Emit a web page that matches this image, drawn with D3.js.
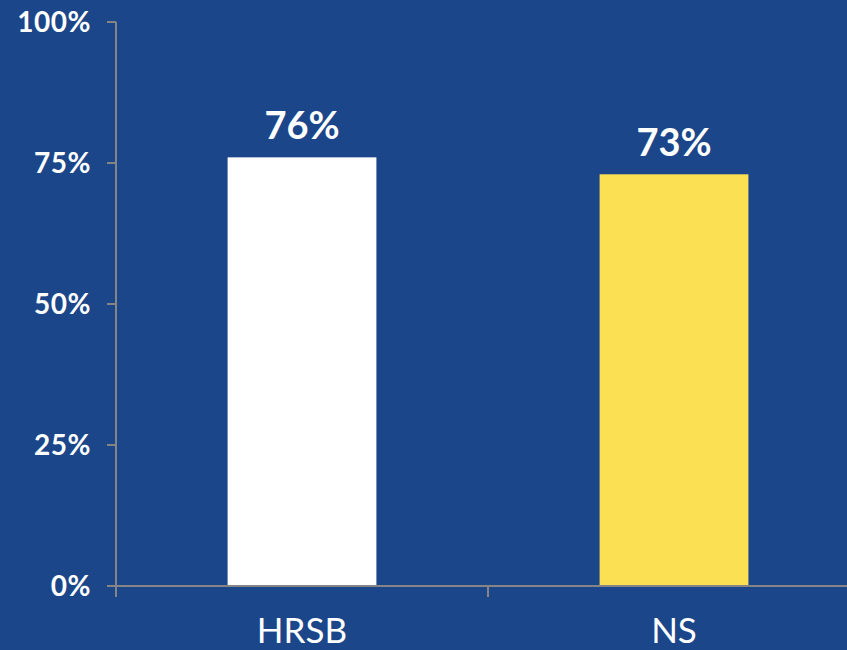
<!DOCTYPE html>
<html><head><meta charset="utf-8">
<script src="https://cdn.jsdelivr.net/npm/d3@7/dist/d3.min.js"></script>
<style>html,body{margin:0;padding:0;background:#1b4689;overflow:hidden}svg{display:block}</style>
</head><body>
<script>
const categories = ["HRSB", "NS"];
const values = [0.76, 0.73];
const barColors = ["#ffffff", "#fae052"];
const yTicks = [0, 0.25, 0.5, 0.75, 1];
const W = 847, H = 650;
const svg = d3.select("body").append("svg").attr("width", W).attr("height", H);
svg.append("rect").attr("width", W).attr("height", H).attr("fill", "#1b4689");
const x = d3.scaleBand().domain(categories).range([116, 860]).padding(0);
const y = d3.scaleLinear().domain([0, 1]).range([586, 22]);
const font = "Lato, 'Open Sans', sans-serif";
const axisColor = "#858585";
// y axis line
svg.append("line").attr("x1", 116).attr("x2", 116).attr("y1", y(1)).attr("y2", 597)
  .attr("stroke", axisColor).attr("stroke-width", 2);
// y ticks
svg.selectAll(".yt").data(yTicks).join("line")
  .attr("x1", 107).attr("x2", 116).attr("y1", d => y(d)).attr("y2", d => y(d))
  .attr("stroke", axisColor).attr("stroke-width", 2);
svg.selectAll(".yl").data(yTicks).join("text")
  .attr("x", 91).attr("y", d => y(d)).attr("dy", "0.36em")
  .attr("text-anchor", "end").attr("fill", "#fff")
  .style("font-family", font).style("font-weight", "bold").style("font-size", "28px")
  .style("letter-spacing", "0.5px")
  .text(d => d3.format(".0%")(d));
// bars
const bw = x.bandwidth() * 0.4;
svg.selectAll(".bar").data(categories).join("rect")
  .attr("x", (d) => x(d) + x.bandwidth() / 2 - bw / 2)
  .attr("width", bw)
  .attr("y", (d, i) => y(values[i]))
  .attr("height", (d, i) => y(0) - y(values[i]))
  .attr("fill", (d, i) => barColors[i]);
// x axis
svg.append("line").attr("x1", 107).attr("x2", W).attr("y1", y(0)).attr("y2", y(0))
  .attr("stroke", axisColor).attr("stroke-width", 2);
svg.selectAll(".xt").data(categories.slice(1)).join("line")
  .attr("x1", d => x(d)).attr("x2", d => x(d)).attr("y1", y(0)).attr("y2", 597)
  .attr("stroke", axisColor).attr("stroke-width", 2);
svg.selectAll(".xl").data(categories).join("text")
  .attr("x", d => x(d) + x.bandwidth() / 2).attr("y", 643)
  .attr("text-anchor", "middle").attr("fill", "#fff")
  .style("font-family", font).style("font-size", "35px")
  .text(d => d);
// value labels
svg.selectAll(".vl").data(categories).join("text")
  .attr("x", d => x(d) + x.bandwidth() / 2)
  .attr("y", (d, i) => y(values[i]) - 18)
  .attr("text-anchor", "middle").attr("fill", "#fff")
  .style("font-family", font).style("font-weight", "bold").style("font-size", "38px")
  .text((d, i) => d3.format(".0%")(values[i]));
</script>
</body></html>
